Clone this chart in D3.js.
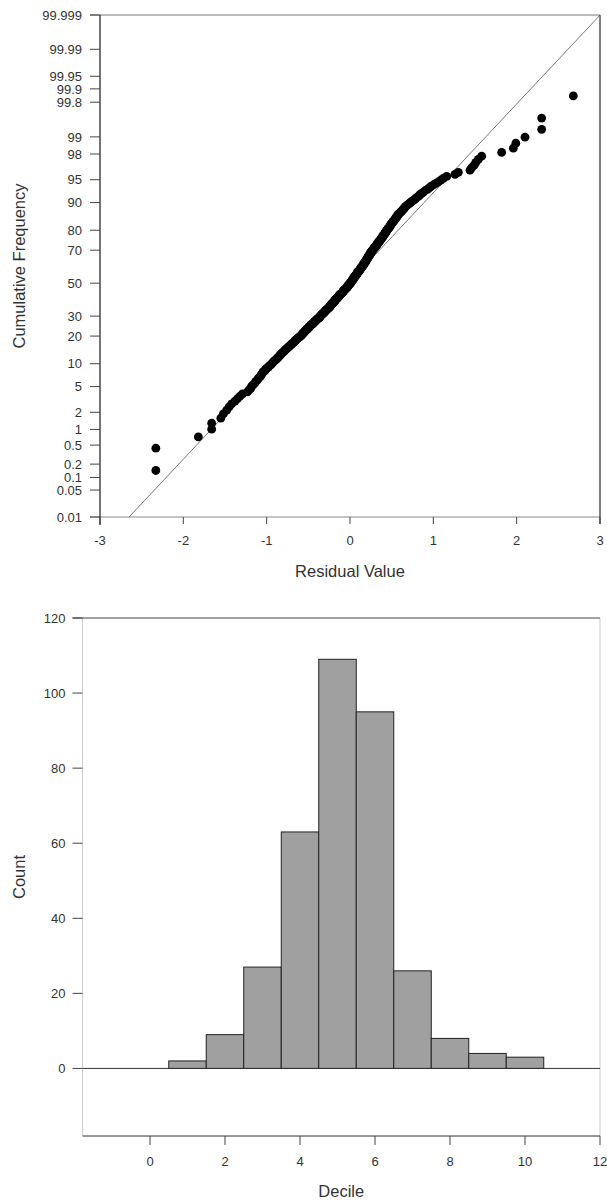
<!DOCTYPE html>
<html>
<head>
<meta charset="utf-8">
<title>Residual probability plot and decile histogram</title>
<script src="https://cdn.jsdelivr.net/npm/d3@7"></script>
<style>
  html, body { margin: 0; padding: 0; background: #ffffff; }
  svg { display: block; }
</style>
</head>
<body>
<div id="chart"></div>
<script>
// Normal probability plot of residuals (top) + decile count histogram (bottom)

// residuals, lowest to highest
const residuals = [
  -2.33, -2.33, -1.82, -1.66, -1.66, -1.55, -1.52, -1.48, -1.45, -1.42, -1.38, -1.35, -1.32, -1.29,
  -1.23, -1.21, -1.19, -1.18, -1.16, -1.14,
  -1.13, -1.11, -1.10, -1.08, -1.07,
  -1.06, -1.05, -1.04, -1.02, -1.01,
  -1.00, -0.98, -0.97, -0.95, -0.94,
  -0.93, -0.92, -0.91, -0.89, -0.88,
  -0.87, -0.86, -0.85, -0.84, -0.83,
  -0.82, -0.81, -0.80, -0.79, -0.78,
  -0.77, -0.76, -0.75, -0.74, -0.73, -0.72, -0.71, -0.70, -0.69, -0.68,
  -0.67, -0.66, -0.66, -0.65, -0.64, -0.63, -0.62, -0.61, -0.60, -0.59,
  -0.58, -0.58, -0.57, -0.56, -0.56, -0.55, -0.54, -0.54, -0.53, -0.52,
  -0.51, -0.51, -0.50, -0.49, -0.49, -0.48, -0.47, -0.47, -0.46, -0.45,
  -0.44, -0.44, -0.43, -0.42, -0.42, -0.41, -0.40, -0.40, -0.39, -0.38,
  -0.37, -0.37, -0.36, -0.36, -0.35, -0.35, -0.34, -0.33, -0.33, -0.32,
  -0.31, -0.31, -0.30, -0.30, -0.29, -0.29, -0.28, -0.27, -0.27, -0.26,
  -0.25, -0.25, -0.24, -0.24, -0.23, -0.23, -0.23, -0.22, -0.22, -0.21,
  -0.20, -0.20, -0.19, -0.19, -0.18, -0.18, -0.18, -0.17, -0.17, -0.16,
  -0.15, -0.15, -0.14, -0.14, -0.13, -0.13, -0.13, -0.12, -0.12, -0.11,
  -0.10, -0.10, -0.09, -0.09, -0.08, -0.08, -0.08, -0.07, -0.07, -0.06,
  -0.05, -0.05, -0.04, -0.04, -0.03, -0.03, -0.03, -0.02, -0.02, -0.01,
  -0.01, 0.00, 0.00, 0.01, 0.01, 0.01, 0.02, 0.02, 0.02, 0.03,
  0.03, 0.04, 0.04, 0.04, 0.05, 0.05, 0.05, 0.06, 0.06, 0.07,
  0.07, 0.08, 0.08, 0.08, 0.09, 0.09, 0.09, 0.10, 0.10, 0.11,
  0.11, 0.12, 0.12, 0.12, 0.13, 0.13, 0.13, 0.14, 0.14, 0.15,
  0.15, 0.16, 0.16, 0.16, 0.17, 0.17, 0.17, 0.18, 0.18, 0.19,
  0.19, 0.19, 0.20, 0.20, 0.20, 0.21, 0.21, 0.21, 0.22, 0.22,
  0.22, 0.23, 0.23, 0.24, 0.24, 0.24, 0.25, 0.25, 0.25, 0.26,
  0.26, 0.27, 0.27, 0.28, 0.28, 0.29, 0.29, 0.30, 0.30, 0.31,
  0.31, 0.32, 0.32, 0.33, 0.33, 0.34, 0.34, 0.35, 0.35, 0.36,
  0.36, 0.37, 0.37, 0.38, 0.38, 0.39, 0.39, 0.40, 0.40, 0.41,
  0.41, 0.42, 0.42, 0.43, 0.43, 0.44, 0.44, 0.45, 0.45, 0.46,
  0.47, 0.47, 0.48, 0.48, 0.49, 0.49, 0.50, 0.51, 0.51, 0.52,
  0.53, 0.53, 0.54, 0.55, 0.55, 0.56, 0.57, 0.57, 0.58, 0.59,
  0.60, 0.61, 0.62, 0.63, 0.64, 0.65, 0.66, 0.67, 0.68, 0.70,
  0.71, 0.73, 0.74, 0.76, 0.78, 0.79, 0.81, 0.83, 0.84, 0.86,
  0.88, 0.90, 0.93, 0.95, 0.97,
  1.00, 1.03, 1.06, 1.09, 1.12,
  1.16, 1.26, 1.30, 1.44, 1.46, 1.49, 1.51, 1.54, 1.58,
  1.82, 1.96, 1.99, 2.10, 2.30, 2.30, 2.68
];

// fitted normal reference line (mean, sd of the residuals)
const refMean = -0.018;
const refSd = 0.708;

const residualTicks = [-3, -2, -1, 0, 1, 2, 3];
const freqTicks = [
  "99.999", "99.99", "99.95", "99.9", "99.8", "99", "98", "95", "90", "80", "70",
  "50", "30", "20", "10", "5", "2", "1", "0.5", "0.2", "0.1", "0.05", "0.01"
];

const deciles = [1, 2, 3, 4, 5, 6, 7, 8, 9, 10];
const decileCounts = [2, 9, 27, 63, 109, 95, 26, 8, 4, 3];
const decileTicks = [0, 2, 4, 6, 8, 10, 12];
const countTicks = [0, 20, 40, 60, 80, 100, 120];

const fontUi = '"Liberation Sans", Arial, Helvetica, sans-serif';
const textColor = "#333333";
const lineDark = "#2a2a2a";
const tickSize = 13;
const titleSize = 16.5;

// Acklam's approximation of the inverse normal CDF
function probit(p) {
  const a = [-3.969683028665376e+01, 2.209460984245205e+02, -2.759285104469687e+02,
    1.383577518672690e+02, -3.066479806614716e+01, 2.506628277459239e+00];
  const b = [-5.447609879822406e+01, 1.615858368580409e+02, -1.556989798598866e+02,
    6.680131188771972e+01, -1.328068155288572e+01];
  const c = [-7.784894002430293e-03, -3.223964580411365e-01, -2.400758277161838e+00,
    -2.549732539343734e+00, 4.374664141464968e+00, 2.938163982698783e+00];
  const d = [7.784695709041462e-03, 3.224671290700398e-01, 2.445134137142996e+00,
    3.754408361907416e+00];
  const plow = 0.02425;
  let q, r;
  if (p < plow) {
    q = Math.sqrt(-2 * Math.log(p));
    return (((((c[0] * q + c[1]) * q + c[2]) * q + c[3]) * q + c[4]) * q + c[5]) /
      ((((d[0] * q + d[1]) * q + d[2]) * q + d[3]) * q + 1);
  }
  if (p <= 1 - plow) {
    q = p - 0.5;
    r = q * q;
    return (((((a[0] * r + a[1]) * r + a[2]) * r + a[3]) * r + a[4]) * r + a[5]) * q /
      (((((b[0] * r + b[1]) * r + b[2]) * r + b[3]) * r + b[4]) * r + 1);
  }
  q = Math.sqrt(-2 * Math.log(1 - p));
  return -(((((c[0] * q + c[1]) * q + c[2]) * q + c[3]) * q + c[4]) * q + c[5]) /
    ((((d[0] * q + d[1]) * q + d[2]) * q + d[3]) * q + 1);
}

const width = 607;
const height = 1203;

const svg = d3.select("#chart")
  .append("svg")
  .attr("width", width)
  .attr("height", height)
  .attr("viewBox", [0, 0, width, height]);

svg.append("rect")
  .attr("width", width)
  .attr("height", height)
  .attr("fill", "#ffffff");

drawProbabilityPlot(svg);
drawHistogram(svg);

function drawProbabilityPlot(svg) {
  const left = 100, right = 600, top = 15, bottom = 517;

  const x = d3.scaleLinear().domain([-3, 3]).range([left, right]);
  const z = d3.scaleLinear()
    .domain([probit(0.0001), probit(0.99999)])
    .range([bottom, top]);
  const yPct = function(pct) { return z(probit(pct / 100)); };

  const g = svg.append("g").attr("class", "prob-plot");

  g.append("defs").append("clipPath")
    .attr("id", "prob-clip")
    .append("rect")
    .attr("x", left).attr("y", top)
    .attr("width", right - left).attr("height", bottom - top);

  // frame
  g.append("line")
    .attr("x1", left - 10).attr("x2", right)
    .attr("y1", top).attr("y2", top)
    .attr("stroke", "#777777");
  g.append("line")
    .attr("x1", left - 10).attr("x2", right)
    .attr("y1", bottom).attr("y2", bottom)
    .attr("stroke", "#888888");
  g.append("line")
    .attr("x1", left).attr("x2", left)
    .attr("y1", top).attr("y2", bottom + 8)
    .attr("stroke", lineDark).attr("stroke-width", 1.3);
  g.append("line")
    .attr("x1", right).attr("x2", right)
    .attr("y1", top).attr("y2", bottom + 7)
    .attr("stroke", lineDark).attr("stroke-width", 1.2);

  // y ticks
  g.append("g")
    .selectAll("line")
    .data(freqTicks)
    .join("line")
    .attr("x1", left - 10).attr("x2", left)
    .attr("y1", function(d) { return yPct(+d); })
    .attr("y2", function(d) { return yPct(+d); })
    .attr("stroke", "#444444");

  g.append("g")
    .selectAll("text")
    .data(freqTicks)
    .join("text")
    .attr("x", left - 18)
    .attr("y", function(d) { return yPct(+d); })
    .attr("dy", "0.36em")
    .attr("text-anchor", "end")
    .attr("fill", textColor)
    .attr("font-size", tickSize)
    .attr("font-family", fontUi)
    .text(function(d) { return d; });

  // x ticks
  g.append("g")
    .selectAll("line")
    .data(residualTicks)
    .join("line")
    .attr("x1", function(d) { return x(d); })
    .attr("x2", function(d) { return x(d); })
    .attr("y1", bottom).attr("y2", bottom + 7)
    .attr("stroke", "#444444");

  g.append("g")
    .selectAll("text")
    .data(residualTicks)
    .join("text")
    .attr("x", function(d) { return x(d); })
    .attr("y", bottom + 28)
    .attr("text-anchor", "middle")
    .attr("fill", textColor)
    .attr("font-size", tickSize)
    .attr("font-family", fontUi)
    .text(function(d) { return d; });

  g.append("text")
    .attr("x", (left + right) / 2)
    .attr("y", bottom + 60)
    .attr("text-anchor", "middle")
    .attr("fill", textColor)
    .attr("font-size", titleSize)
    .attr("font-family", fontUi)
    .text("Residual Value");

  g.append("text")
    .attr("transform", "translate(25,266) rotate(-90)")
    .attr("text-anchor", "middle")
    .attr("fill", textColor)
    .attr("font-size", titleSize)
    .attr("font-family", fontUi)
    .text("Cumulative Frequency");

  // normal reference line
  const refLine = d3.line()
    .x(function(d) { return x(d); })
    .y(function(d) { return z((d - refMean) / refSd); });

  g.append("path")
    .datum([-3, 3])
    .attr("clip-path", "url(#prob-clip)")
    .attr("d", refLine)
    .attr("fill", "none")
    .attr("stroke", "#555555")
    .attr("stroke-width", 0.8);

  // points at plotting positions (i - 0.5) / n
  const sorted = d3.sort(residuals);
  const n = sorted.length;

  g.append("g")
    .selectAll("circle")
    .data(sorted)
    .join("circle")
    .attr("cx", function(d) { return x(d); })
    .attr("cy", function(d, i) { return z(probit((i + 0.5) / n)); })
    .attr("r", 4.4)
    .attr("fill", "#000000");
}

function drawHistogram(svg) {
  const left = 82.5, right = 600, top = 618, bottom = 1136;

  const x = d3.scaleLinear().domain([-1.8, 12]).range([left, right]);
  const y = d3.scaleLinear().domain([-18, 120]).range([bottom, top]);

  const g = svg.append("g").attr("class", "histogram");

  // frame
  g.append("line")
    .attr("x1", left).attr("x2", left)
    .attr("y1", top).attr("y2", bottom)
    .attr("stroke", "#cccccc");
  g.append("line")
    .attr("x1", right).attr("x2", right)
    .attr("y1", top).attr("y2", bottom)
    .attr("stroke", "#cccccc");
  g.append("line")
    .attr("x1", left - 10).attr("x2", right)
    .attr("y1", top).attr("y2", top)
    .attr("stroke", "#444444");
  g.append("line")
    .attr("x1", left).attr("x2", right)
    .attr("y1", bottom).attr("y2", bottom)
    .attr("stroke", "#333333");

  // bars
  g.append("g")
    .selectAll("rect")
    .data(deciles)
    .join("rect")
    .attr("x", function(d) { return x(d - 0.5); })
    .attr("width", function(d) { return x(d + 0.5) - x(d - 0.5); })
    .attr("y", function(d, i) { return y(decileCounts[i]); })
    .attr("height", function(d, i) { return y(0) - y(decileCounts[i]); })
    .attr("fill", "#a0a0a0")
    .attr("stroke", "#222222")
    .attr("stroke-width", 1);

  // zero line
  g.append("line")
    .attr("x1", left).attr("x2", right)
    .attr("y1", y(0)).attr("y2", y(0))
    .attr("stroke", "#333333");

  // y ticks
  g.append("g")
    .selectAll("line")
    .data(countTicks)
    .join("line")
    .attr("x1", left - 10).attr("x2", left)
    .attr("y1", function(d) { return y(d); })
    .attr("y2", function(d) { return y(d); })
    .attr("stroke", "#444444");

  g.append("g")
    .selectAll("text")
    .data(countTicks)
    .join("text")
    .attr("x", left - 17)
    .attr("y", function(d) { return y(d); })
    .attr("dy", "0.36em")
    .attr("text-anchor", "end")
    .attr("fill", textColor)
    .attr("font-size", tickSize)
    .attr("font-family", fontUi)
    .text(function(d) { return d; });

  // x ticks
  g.append("g")
    .selectAll("line")
    .data(decileTicks)
    .join("line")
    .attr("x1", function(d) { return x(d); })
    .attr("x2", function(d) { return x(d); })
    .attr("y1", bottom).attr("y2", bottom + 9)
    .attr("stroke", "#444444");

  g.append("g")
    .selectAll("text")
    .data(decileTicks)
    .join("text")
    .attr("x", function(d) { return x(d); })
    .attr("y", bottom + 30)
    .attr("text-anchor", "middle")
    .attr("fill", textColor)
    .attr("font-size", tickSize)
    .attr("font-family", fontUi)
    .text(function(d) { return d; });

  g.append("text")
    .attr("x", (left + right) / 2)
    .attr("y", bottom + 61)
    .attr("text-anchor", "middle")
    .attr("fill", textColor)
    .attr("font-size", titleSize)
    .attr("font-family", fontUi)
    .text("Decile");

  g.append("text")
    .attr("transform", "translate(25," + ((top + bottom) / 2) + ") rotate(-90)")
    .attr("text-anchor", "middle")
    .attr("fill", textColor)
    .attr("font-size", titleSize)
    .attr("font-family", fontUi)
    .text("Count");
}
</script>
</body>
</html>
